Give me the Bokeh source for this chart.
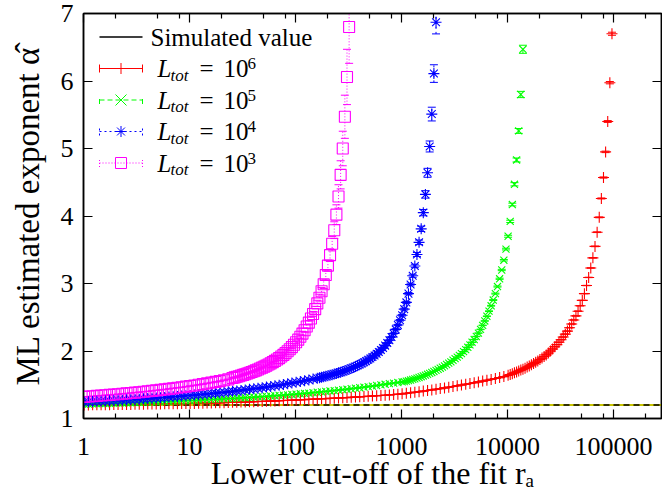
import math
from bokeh.plotting import figure
from bokeh.models import (ColumnDataSource, Whisker, TeeHead, Span, Label, Arrow,
                          FixedTicker, LogAxis, LinearAxis, Range1d, CustomJSTickFormatter)
from bokeh.embed import file_html
from bokeh.resources import INLINE

# ------------------------------------------------------------------ data
simulated_alpha = 1.2

x_ticks = [1, 10, 100, 1000, 10000, 100000]
x_tick_labels = ["1", "10", "100", "1000", "10000", "100000"]
x_minor_ticks = [2, 5, 8, 20, 50, 80, 200, 500, 800, 2000, 5000, 8000,
                 20000, 50000, 80000, 200000]
y_ticks = [1, 2, 3, 4, 5, 6, 7]

# lower cut-off values r_a used by the fits: 50 per decade (mantissas of one decade)
r_a_mantissas = [1.0139, 1.0617, 1.1117, 1.1641, 1.2190, 1.2764, 1.3366, 1.3996, 1.4655, 1.5346,
                 1.6069, 1.6827, 1.7620, 1.8450, 1.9320, 2.0230, 2.1184, 2.2182, 2.3227, 2.4322,
                 2.5468, 2.6669, 2.7925, 2.9242, 3.0620, 3.2063, 3.3574, 3.5156, 3.6813, 3.8548,
                 4.0365, 4.2267, 4.4259, 4.6345, 4.8529, 5.0816, 5.3211, 5.5719, 5.8345, 6.1094,
                 6.3973, 6.6988, 7.0146, 7.3451, 7.6913, 8.0538, 8.4333, 8.8308, 9.2470, 9.6828]
r_a_all = [m * 10 ** d for d in range(5) for m in r_a_mantissas]

# each series: "sparse" = estimates at every 2nd r_a (flat part),
#              "dense"  = estimates at every r_a afterwards (steep part)
# L_tot = 10^6
alpha_L6_sparse = [
    1.200, 1.201, 1.202, 1.203, 1.204, 1.204, 1.205, 1.206, 1.207, 1.207,
    1.208, 1.209, 1.210, 1.211, 1.212, 1.213, 1.214, 1.215, 1.216, 1.217,
    1.218, 1.219, 1.220, 1.221, 1.222,
    1.223, 1.224, 1.226, 1.227, 1.229, 1.230, 1.232, 1.233, 1.235, 1.237,
    1.239, 1.241, 1.243, 1.245, 1.247, 1.249, 1.251, 1.253, 1.255, 1.258,
    1.260, 1.263, 1.266, 1.268, 1.271,
    1.274, 1.277, 1.280, 1.283, 1.286, 1.289, 1.292, 1.295, 1.298, 1.301,
    1.304, 1.307, 1.310, 1.314, 1.317, 1.321, 1.325, 1.329, 1.333, 1.337,
    1.341, 1.345, 1.350, 1.355, 1.360,
    1.365, 1.373, 1.381, 1.389, 1.397, 1.406, 1.415, 1.424, 1.433, 1.443,
    1.453, 1.464, 1.474, 1.485, 1.496, 1.507, 1.518, 1.530, 1.542, 1.554,
    1.566, 1.579, 1.592, 1.606, 1.621]
alpha_L6_dense = [
    1.640, 1.652, 1.664, 1.677, 1.690, 1.703, 1.717, 1.731, 1.746, 1.762,
    1.778, 1.795, 1.813, 1.832, 1.852, 1.873, 1.895, 1.918, 1.942, 1.970,
    2.000, 2.030, 2.062, 2.095, 2.130, 2.167, 2.207, 2.250, 2.295, 2.345,
    2.400, 2.460, 2.520, 2.590, 2.670, 2.750, 2.850, 2.970, 3.090, 3.230,
    3.380, 3.550, 3.760, 3.980, 4.260, 4.570, 4.950, 5.400, 5.975, 6.700]

# L_tot = 10^5
alpha_L5_sparse = [
    1.212, 1.214, 1.216, 1.218, 1.220, 1.222, 1.224, 1.226, 1.228, 1.230,
    1.232, 1.234, 1.236, 1.238, 1.240, 1.242, 1.244, 1.247, 1.249, 1.251,
    1.254, 1.256, 1.259, 1.261, 1.264,
    1.266, 1.269, 1.272, 1.275, 1.278, 1.281, 1.284, 1.287, 1.290, 1.294,
    1.297, 1.301, 1.304, 1.308, 1.312, 1.316, 1.320, 1.324, 1.328, 1.333,
    1.337, 1.342, 1.346, 1.351, 1.356,
    1.361, 1.366, 1.372, 1.377, 1.383, 1.389, 1.395, 1.401, 1.408, 1.414,
    1.421, 1.427, 1.434, 1.441, 1.449, 1.456, 1.464, 1.472, 1.480, 1.489,
    1.498, 1.507, 1.516, 1.525, 1.533]
alpha_L5_dense = [
    1.542, 1.547, 1.554, 1.562, 1.570, 1.579, 1.588, 1.598, 1.608, 1.619,
    1.630, 1.642, 1.655, 1.668, 1.682, 1.697, 1.712, 1.728, 1.745, 1.762,
    1.780, 1.800, 1.820, 1.840, 1.863, 1.886, 1.910, 1.935, 1.962, 1.990,
    2.020, 2.055, 2.090, 2.130, 2.170, 2.215, 2.265, 2.320, 2.380, 2.445,
    2.515, 2.590, 2.670, 2.755, 2.850, 2.955, 3.070, 3.200, 3.345, 3.510,
    3.700, 3.920, 4.170, 4.470, 4.830, 5.260, 5.800, 6.470]

# L_tot = 10^4
alpha_L4_sparse = [
    1.245, 1.248, 1.251, 1.254, 1.257, 1.260, 1.263, 1.266, 1.269, 1.272,
    1.276, 1.279, 1.283, 1.287, 1.291, 1.295, 1.299, 1.303, 1.308, 1.312,
    1.317, 1.322, 1.327, 1.332, 1.337,
    1.342, 1.347, 1.353, 1.358, 1.364, 1.370, 1.376, 1.382, 1.389, 1.395,
    1.402, 1.409, 1.416, 1.424, 1.432, 1.440, 1.448, 1.457, 1.466, 1.475,
    1.484, 1.494, 1.504, 1.514, 1.525,
    1.536, 1.547, 1.559, 1.571, 1.584]
alpha_L4_dense = [
    1.597, 1.604, 1.611, 1.618, 1.626, 1.634, 1.642, 1.650, 1.659, 1.668,
    1.677, 1.687, 1.697, 1.708, 1.719, 1.731, 1.743, 1.756, 1.770, 1.784,
    1.799, 1.815, 1.832, 1.850, 1.869, 1.889, 1.910, 1.933, 1.958, 1.985,
    2.014, 2.045, 2.080, 2.118, 2.160, 2.207, 2.260, 2.320, 2.385, 2.455,
    2.530, 2.620, 2.720, 2.850, 2.985, 3.115, 3.260, 3.430, 3.610, 3.810,
    4.050, 4.320, 4.640, 5.030, 5.510, 6.110, 6.870]

# L_tot = 10^3
alpha_L3_sparse = [
    1.320, 1.325, 1.330, 1.335, 1.340, 1.345, 1.350, 1.355, 1.360, 1.366,
    1.372, 1.378, 1.384, 1.390, 1.396, 1.403, 1.410, 1.417, 1.424, 1.431,
    1.439, 1.447, 1.455, 1.463, 1.472,
    1.481, 1.490, 1.500, 1.510, 1.520, 1.531, 1.542, 1.554, 1.566, 1.579]
alpha_L3_dense = [
    1.600, 1.609, 1.618, 1.627, 1.636, 1.646, 1.656, 1.667, 1.678, 1.689,
    1.701, 1.713, 1.726, 1.740, 1.754, 1.768, 1.784, 1.800, 1.817, 1.835,
    1.854, 1.874, 1.895, 1.918, 1.942, 1.968, 1.996, 2.026, 2.058, 2.092,
    2.129, 2.168, 2.211, 2.258, 2.308, 2.362, 2.420, 2.482, 2.548, 2.620,
    2.705, 2.790, 2.885, 2.990, 3.125, 3.265, 3.420, 3.590, 3.790, 4.020,
    4.290, 4.610, 5.000, 5.470, 6.060, 6.800]

# error-bar half height relative to (alpha - 1)^2, per series
err_rel = {"6": 0.0007, "5": 0.002, "4": 0.005, "3": 0.016}

series = [
    dict(exp="6", sparse=alpha_L6_sparse, dense=alpha_L6_dense,
         color="#ff0000", marker="cross", dash="solid", size=11),
    dict(exp="5", sparse=alpha_L5_sparse, dense=alpha_L5_dense,
         color="#00ff00", marker="x", dash="5 3", size=10),
    dict(exp="4", sparse=alpha_L4_sparse, dense=alpha_L4_dense,
         color="#0000ff", marker="asterisk", dash="2 3", size=11),
    dict(exp="3", sparse=alpha_L3_sparse, dense=alpha_L3_dense,
         color="#ff00ff", marker="square", dash="1 2", size=11),
]

# ------------------------------------------------------------------ figure
FONT = "Liberation Serif"

p = figure(width=662, height=493, x_axis_type="log",
           x_range=Range1d(1, 2.84e5), y_range=Range1d(1, 7),
           output_backend="svg", toolbar_location=None,
           min_border_left=83, min_border_right=1, min_border_top=13, min_border_bottom=72)
p.xgrid.visible = False
p.ygrid.visible = False
p.outline_line_color = "black"
p.outline_line_width = 1.5
p.outline_line_alpha = 1.0
p.background_fill_color = "white"
p.border_fill_color = "white"


def style_axis(ax, show_labels=True):
    ax.axis_line_color = "black"
    ax.axis_line_width = 1.5
    ax.major_tick_in = 9
    ax.major_tick_out = 0
    ax.minor_tick_in = 5
    ax.minor_tick_out = 0
    ax.major_tick_line_color = "black"
    ax.minor_tick_line_color = "black"
    ax.major_tick_line_width = 1.2
    ax.minor_tick_line_width = 1.2
    if show_labels:
        ax.major_label_text_font = FONT
        ax.major_label_text_font_size = "26px"
        ax.major_label_text_color = "black"
        ax.axis_label_text_font = FONT
        ax.axis_label_text_font_style = "normal"
        ax.axis_label_text_color = "black"
    else:
        ax.formatter = CustomJSTickFormatter(code="return ''")
        ax.major_label_text_font_size = "6px"
        ax.major_label_standoff = 0


p.xaxis.ticker = FixedTicker(ticks=x_ticks, minor_ticks=x_minor_ticks)
p.xaxis.major_label_overrides = {t: s for t, s in zip(x_ticks, x_tick_labels)}
style_axis(p.xaxis[0])
p.xaxis.major_label_standoff = 19
p.xaxis.axis_label = "Lower cut-off of the fit r\u2090"
p.xaxis.axis_label_text_font_size = "32px"
p.xaxis.axis_label_standoff = -3

p.yaxis.ticker = FixedTicker(ticks=y_ticks, minor_ticks=[])
style_axis(p.yaxis[0])
p.yaxis.major_label_standoff = 10
p.yaxis.axis_label = "ML estimated exponent \u03b1\u0302"
p.yaxis.axis_label_text_font_size = "33px"
p.yaxis.axis_label_standoff = 12

top = LogAxis(ticker=FixedTicker(ticks=x_ticks, minor_ticks=x_minor_ticks))
style_axis(top, show_labels=False)
p.add_layout(top, "above")
right = LinearAxis(ticker=FixedTicker(ticks=y_ticks, minor_ticks=[]))
style_axis(right, show_labels=False)
p.add_layout(right, "right")

# simulated value line
p.add_layout(Span(location=simulated_alpha, dimension="width", line_color="#c8c400",
                  line_width=2, level="underlay"))
p.add_layout(Span(location=simulated_alpha, dimension="width", line_color="black",
                  line_width=1.3, line_dash="6 4", level="underlay"))

for s in series:
    n = len(s["sparse"])
    xs = [r_a_all[2 * k] for k in range(n)] + r_a_all[2 * n: 2 * n + len(s["dense"])]
    ys = s["sparse"] + s["dense"]
    rel = err_rel[s["exp"]]
    errs = [rel * (y - 1.0) ** 2 for y in ys]
    src = ColumnDataSource(dict(x=xs, y=ys,
                                upper=[y + e for y, e in zip(ys, errs)],
                                lower=[y - e for y, e in zip(ys, errs)]))
    w = Whisker(source=src, base="x", upper="upper", lower="lower", dimension="height",
                line_color=s["color"], line_width=1, line_dash=s["dash"],
                upper_head=TeeHead(size=8, line_color=s["color"], line_width=1),
                lower_head=TeeHead(size=8, line_color=s["color"], line_width=1))
    p.add_layout(w)
    p.scatter("x", "y", source=src, marker=s["marker"], size=s["size"],
              line_color=s["color"], fill_color=None, line_width=1.1)

# ------------------------------------------------------------------ legend (screen units, frame relative)
def seg(x0, y0, x1, y1, color, dash="solid", width=1.0):
    p.add_layout(Arrow(end=None, x_start=x0, y_start=y0, x_end=x1, y_end=y1,
                       start_units="screen", end_units="screen",
                       line_color=color, line_dash=dash, line_width=width))


def txt(x, y, text, size, italic=False, align="left", baseline="middle"):
    p.add_layout(Label(x=x, y=y, x_units="screen", y_units="screen", text=text,
                       text_font=FONT, text_font_size=size,
                       text_font_style="italic" if italic else "normal",
                       text_align=align, text_baseline=baseline,
                       text_color="black"))


def leg_marker(kind, cx, cy, color, r=5.5):
    if kind == "cross":
        segs = [(cx - r, cy, cx + r, cy), (cx, cy - r, cx, cy + r)]
    elif kind == "x":
        segs = [(cx - r, cy - r, cx + r, cy + r), (cx - r, cy + r, cx + r, cy - r)]
    elif kind == "asterisk":
        q = r * 0.72
        segs = [(cx - r, cy, cx + r, cy), (cx, cy - r, cx, cy + r),
                (cx - q, cy - q, cx + q, cy + q), (cx - q, cy + q, cx + q, cy - q)]
    else:
        segs = [(cx - r, cy - r, cx + r, cy - r), (cx + r, cy - r, cx + r, cy + r),
                (cx + r, cy + r, cx - r, cy + r), (cx - r, cy + r, cx - r, cy - r)]
    for a in segs:
        seg(*a, color=color)


LX0, LX1, LXM = 16, 59, 37.5
rows = [381.5, 350, 318.5, 287, 255.5]

seg(LX0, rows[0], LX1, rows[0], "black", width=1.3)
txt(67, rows[0], "Simulated value", "25px")

for s, yr in zip(series, rows[1:]):
    seg(LX0, yr, LX1, yr, s["color"], dash=s["dash"])
    seg(LX0, yr - 4, LX0, yr + 4, s["color"], dash=s["dash"])
    seg(LX1, yr - 4, LX1, yr + 4, s["color"], dash=s["dash"])
    leg_marker(s["marker"], LXM, yr, s["color"])
    txt(74, yr, "L", "25px", italic=True)
    txt(87, yr - 6.5, "tot", "17px", italic=True)
    txt(123, yr, "=", "25px", align="center")
    txt(140, yr, "10", "25px")
    txt(164, yr + 5, s["exp"], "17px")

open("out.html", "w").write(file_html(p, INLINE, title="ML estimated exponent"))
